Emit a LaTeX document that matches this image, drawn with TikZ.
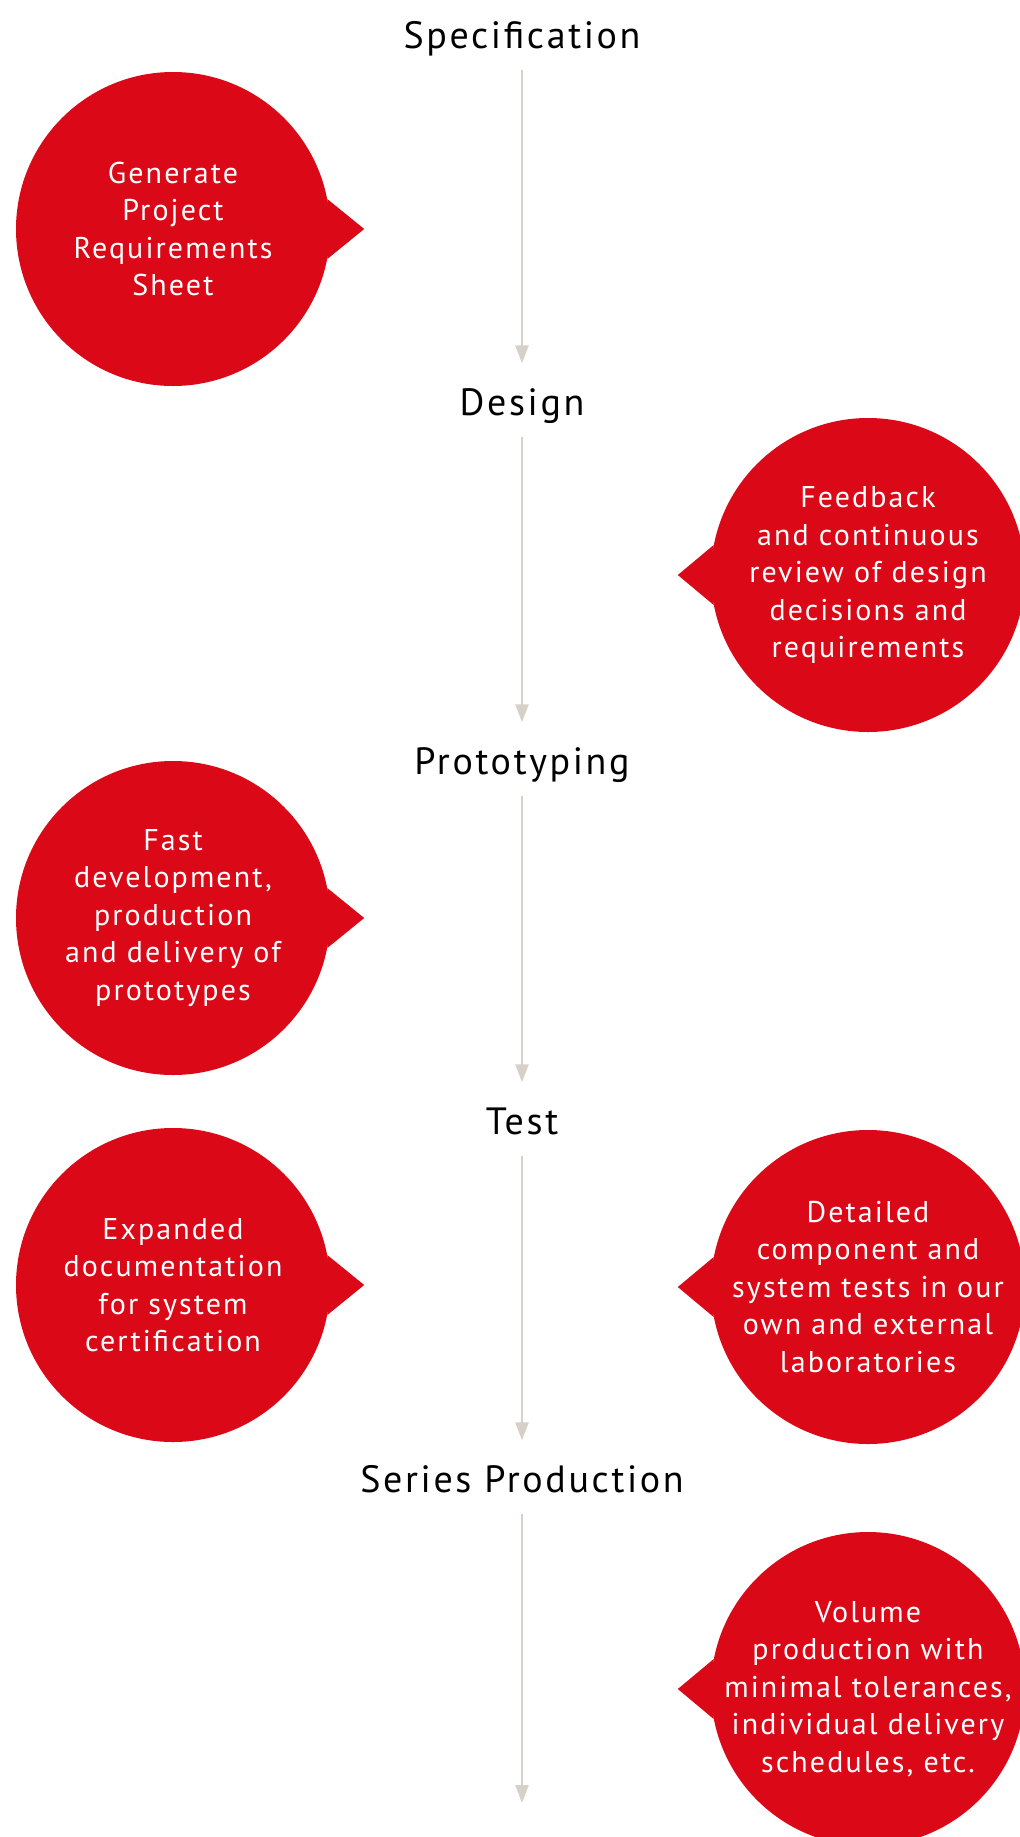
\documentclass[tikz,border=0pt]{standalone}
\usepackage{fontspec}
\setmainfont{PT Sans}[LetterSpace=7]
\usetikzlibrary{arrows.meta,positioning}
\definecolor{bubblered}{RGB}{219,9,23}
\definecolor{flowgray}{RGB}{214,208,200}

\begin{document}
\begin{tikzpicture}[x=1pt,y=-1pt,
    stage/.style={font=\fontsize{38}{46}\selectfont, inner sep=0pt, text height=28pt, text depth=9pt},
    flow/.style={draw=flowgray, line width=2.5pt, -{Triangle[width=13pt,length=18pt]}, shorten <=12pt, shorten >=24pt},
    bubble/.style={circle, fill=bubblered, text=white, minimum size=314pt, inner sep=-40pt, align=center, font=\fontsize{30}{37.5}\selectfont},
    pointer/.style={fill=bubblered}]
    \useasboundingbox (0,0) rectangle (1020,1837);
    \clip (0,0) rectangle (1020,1837);

    % process stages
    \node[stage] (spec) at (522,39) {Specification};
    \node[stage] (design) at (522,406) {Design};
    \node[stage] (proto) at (522,765) {Prototyping};
    \node[stage] (test) at (522,1125) {Test};
    \node[stage] (series) at (522,1483) {Series Production};
    \coordinate (flowend) at (522,1803);

    \draw[flow] (spec) -- (design);
    \draw[flow] (design) -- (proto);
    \draw[flow] (proto) -- (test);
    \draw[flow] (test) -- (series);
    \draw[flow, shorten >=0pt] (series) -- (flowend);

    % left bubbles
    \node[bubble] (reqsheet) at (173,229) {Generate\\Project\\Requirements\\Sheet};
    \fill[pointer] (reqsheet.11) -- ([xshift=34pt]reqsheet.east) -- (reqsheet.-11) -- cycle;
    \node[bubble] (fastdev) at (173,918) {Fast\\development,\\production\\and delivery of\\prototypes};
    \fill[pointer] (fastdev.11) -- ([xshift=34pt]fastdev.east) -- (fastdev.-11) -- cycle;
    \node[bubble] (docs) at (173,1285) {Expanded\\documentation\\for system\\certification};
    \fill[pointer] (docs.11) -- ([xshift=34pt]docs.east) -- (docs.-11) -- cycle;

    % right bubbles
    \node[bubble] (feedback) at (868,575) {Feedback\\and continuous\\review of design\\decisions and\\requirements};
    \fill[pointer] (feedback.169) -- ([xshift=-33pt]feedback.west) -- (feedback.191) -- cycle;
    \node[bubble] (labtests) at (868,1287) {Detailed\\component and\\system tests in our\\own and external\\laboratories};
    \fill[pointer] (labtests.169) -- ([xshift=-33pt]labtests.west) -- (labtests.191) -- cycle;
    \node[bubble] (volume) at (868,1689) {Volume\\production with\\minimal tolerances,\\individual delivery\\schedules, etc.};
    \fill[pointer] (volume.169) -- ([xshift=-33pt]volume.west) -- (volume.191) -- cycle;
\end{tikzpicture}
\end{document}
